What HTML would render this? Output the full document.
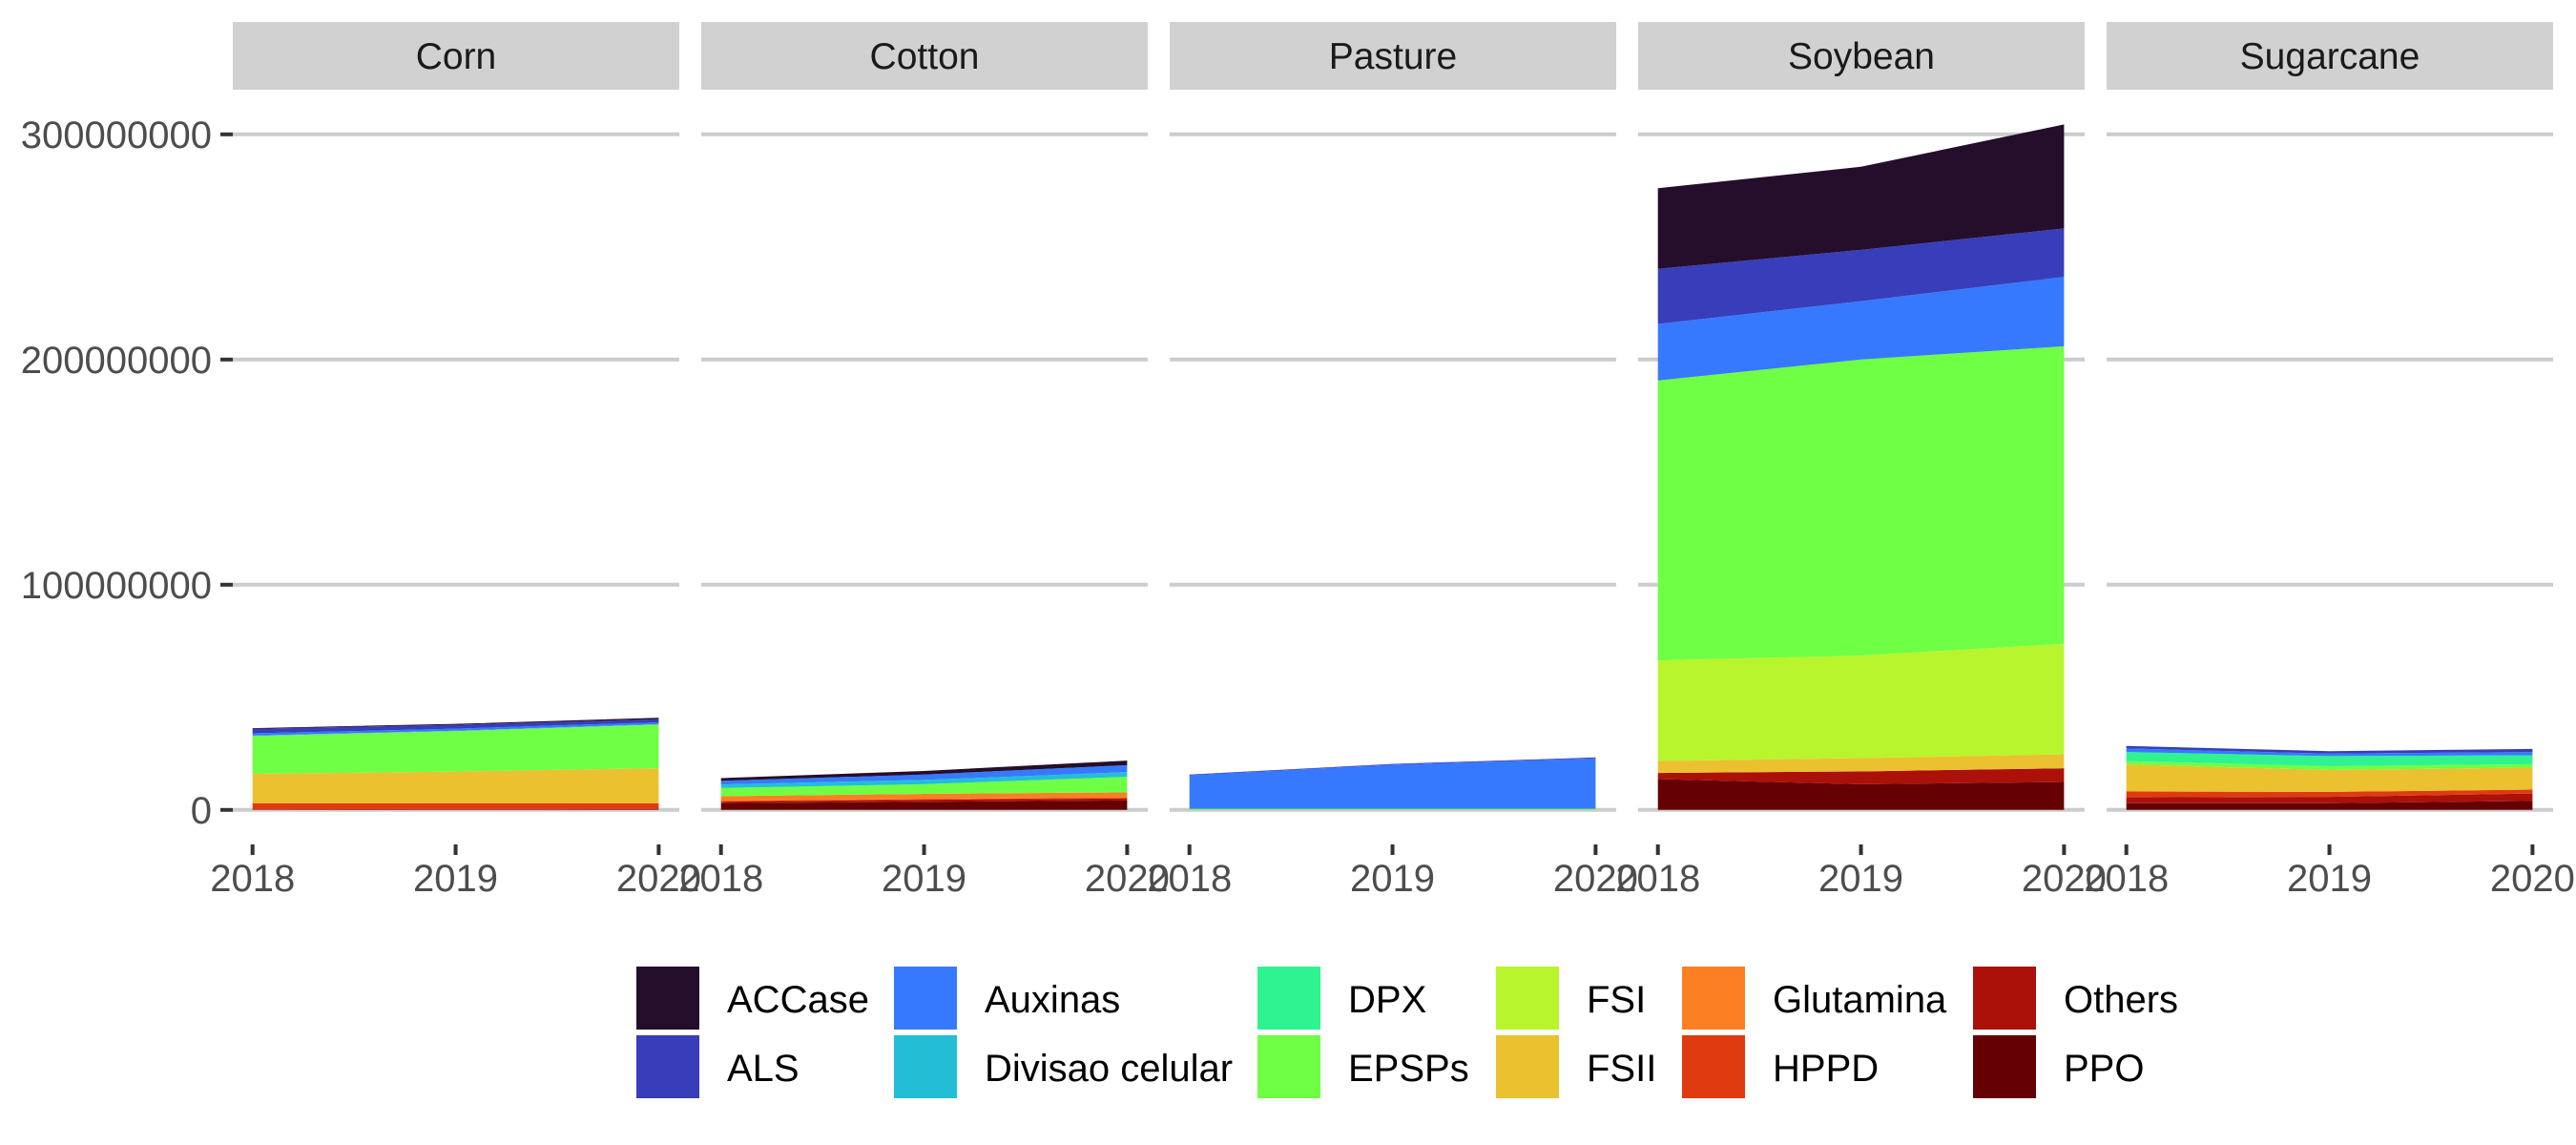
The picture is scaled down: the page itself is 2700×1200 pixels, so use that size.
<!DOCTYPE html>
<html><head><meta charset="utf-8"><style>
html,body{margin:0;padding:0;background:#fff;}
svg{display:block;font-family:"Liberation Sans",Arial,sans-serif;}
</style></head><body>
<svg id="chart" width="2700" height="1200" viewBox="0 0 2700 1200" xmlns="http://www.w3.org/2000/svg">
<g id="panels"></g>
<g id="legend"></g>
</svg>
<script>
const crops = ["Corn","Cotton","Pasture","Soybean","Sugarcane"];
const years = [2018,2019,2020];
const groups = ["ACCase","ALS","Auxinas","Divisao celular","DPX","EPSPs","FSI","FSII","Glutamina","HPPD","Others","PPO"];
const colors = ["#240e2c","#383dba","#3679fe","#23bed6","#2ef390","#6fff44","#b8f52c","#ebc12f","#fc8023","#e03a10","#ab1009","#650004"];
const yTicks = [0,100000000,200000000,300000000];
const yTickLabels = ["0","100000000","200000000","300000000"];
// values in millions, per crop, per group, for 2018,2019,2020
const corn = {ACCase:[0.3,0.4,0.6],ALS:[2,1.7,1.4],Auxinas:[1,0.9,0.8],"Divisao celular":[0.2,0.2,0.2],DPX:[0,0,0],EPSPs:[16.8,18,19.4],FSI:[0,0,0],FSII:[13,14,15.5],Glutamina:[0,0,0],HPPD:[2.7,2.6,2.5],Others:[0.3,0.4,0.5],PPO:[0,0,0]};
const cotton = {ACCase:[1.2,1.6,2.0],ALS:[0,0,0],Auxinas:[1.6,2.4,3.1],"Divisao celular":[1.6,1.9,2.1],DPX:[0,0,0],EPSPs:[3.6,4.3,6.9],FSI:[0,0,0],FSII:[0,0,0],Glutamina:[2.1,2.3,2.4],HPPD:[0.3,0.3,0.3],Others:[0.7,0.9,0.9],PPO:[3,3.6,4.2]};
const pasture = {ACCase:[0,0,0],ALS:[0.3,0.3,0.4],Auxinas:[14.9,19.6,22.4],"Divisao celular":[0,0,0],DPX:[0,0,0],EPSPs:[0.5,0.5,0.5],FSI:[0,0,0],FSII:[0,0,0],Glutamina:[0,0,0],HPPD:[0,0,0],Others:[0,0,0],PPO:[0,0,0]};
const soybean = {ACCase:[35.8,36.9,46.2],ALS:[24.5,22.8,21.5],Auxinas:[25.1,25.9,30.8],"Divisao celular":[0,0,0],DPX:[0,0,0],EPSPs:[124.3,131.5,132.1],FSI:[44.7,45.5,49.1],FSII:[5.3,5.9,6.2],Glutamina:[0,0,0],HPPD:[0,0,0],Others:[2.7,5.7,6.1],PPO:[13.7,11.4,12.4]};
const sugarcane = {ACCase:[0,0,0],ALS:[1.1,1.1,1.4],Auxinas:[1.6,1.1,1.4],"Divisao celular":[0,0,0],DPX:[4.0,4.5,4.0],EPSPs:[1.5,1.7,1.5],FSI:[0,0,0],FSII:[12.0,9.7,9.8],Glutamina:[0,0,0],HPPD:[2.6,2.2,1.7],Others:[2.6,2.8,3.3],PPO:[3.0,3.0,4.0]};
const cropData = [corn,cotton,pasture,soybean,sugarcane];

const NS="http://www.w3.org/2000/svg";
function mk(tag,attrs,parent){const e=document.createElementNS(NS,tag);for(const k in attrs)e.setAttribute(k,attrs[k]);parent.appendChild(e);return e;}
const panelLefts=[244,735,1226,1717,2208], panelW=468;
const y0=848.8, pxPerUnit=236/100000000;
function yScale(v){return y0-v*pxPerUnit;}
function xScale(p,yr){return panelLefts[p]+20.7+(yr-2018)*(425.7/2);}
const panels=document.getElementById('panels');
crops.forEach((c,p)=>{
  const g=mk('g',{},panels);
  
  
  const L=panelLefts[p];
  const strip=mk('rect',{x:L,y:23,width:panelW,height:71,fill:'#d1d1d1'},g);
  
  
  const st=mk('text',{x:L+panelW/2,y:72,'text-anchor':'middle','font-size':39,fill:'#1a1a1a'},g);
  st.textContent=c;
  
  
  yTicks.forEach((t,i)=>{
    const gl=mk('line',{x1:L,x2:L+panelW,y1:yScale(t),y2:yScale(t),stroke:'#cccccc','stroke-width':4},g);
    
    
  });
  const d=cropData[p];
  let base=years.map(()=>0);
  for(let gi=groups.length-1;gi>=0;gi--){
    const vals=d[groups[gi]].map(v=>v*1000000);
    const top=base.map((b,i)=>b+vals[i]);
    let pts=years.map((yr,i)=>xScale(p,yr)+','+yScale(top[i]));
    let bpts=years.map((yr,i)=>xScale(p,yr)+','+yScale(base[i])).reverse();
    const poly=mk('polygon',{points:pts.concat(bpts).join(' '),fill:colors[gi]},g);
    
    
    base=top;
  }
  years.forEach(yr=>{
    const x=xScale(p,yr);
    const tk=mk('line',{x1:x,x2:x,y1:885,y2:896,stroke:'#333','stroke-width':4},g);
    
    
    const tl=mk('text',{x:x,y:934,'text-anchor':'middle','font-size':40,fill:'#4d4d4d'},g);
    tl.textContent=yr;
    
    
  });
});
const axis=mk('g',{},panels);


yTicks.forEach((t,i)=>{
  const tk=mk('line',{x1:231,x2:244,y1:yScale(t),y2:yScale(t),stroke:'#333','stroke-width':4},axis);
  
  
  const tl=mk('text',{x:222,y:yScale(t)+14,'text-anchor':'end','font-size':40,fill:'#4d4d4d'},axis);
  tl.textContent=yTickLabels[i];
  
  
});
const legend=document.getElementById('legend');
const colX=[667,937,1318,1568,1763,2068];
groups.forEach((gname,i)=>{
  const col=Math.floor(i/2), row=i%2;
  const x=colX[col], y=1013+row*72;
  const e=mk('g',{},legend);
  
  
  mk('rect',{x:x,y:y,width:66,height:66,fill:colors[i]},e);
  const t=mk('text',{x:x+95,y:y+48,'font-size':40,fill:'#000'},e);
  t.textContent=gname;
});
</script>
</body></html>
